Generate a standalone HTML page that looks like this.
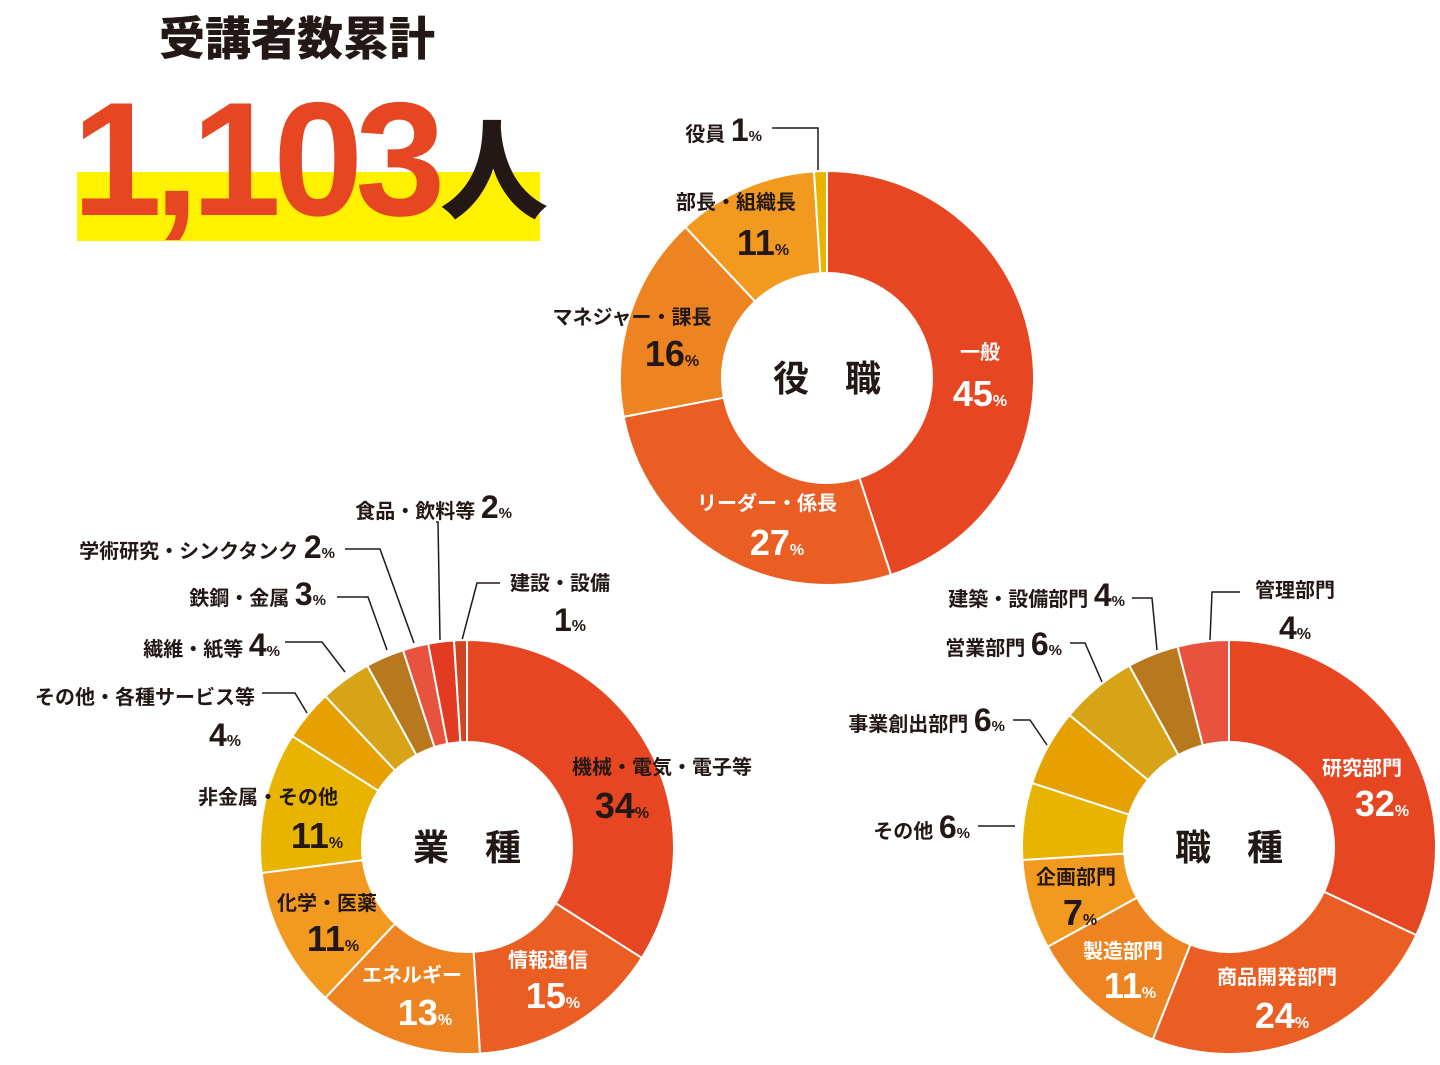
<!DOCTYPE html>
<html><head><meta charset="utf-8">
<style>
html,body{margin:0;padding:0;background:#fff;}
body{width:1440px;height:1060px;overflow:hidden;position:relative;font-family:"Liberation Sans","Noto Sans CJK JP",sans-serif;}
svg text{font-family:"Liberation Sans","Noto Sans CJK JP",sans-serif;font-weight:700;}
</style></head>
<body>
<svg id="chart" width="1440" height="1060" viewBox="0 0 1440 1060" xmlns="http://www.w3.org/2000/svg">
  <g>
    <rect x="77" y="172" width="463" height="69" fill="#fff100"/>
    <text x="297" y="55" text-anchor="middle" font-size="46" fill="#231815" style="font-weight:900">受講者数累計</text>
    <text x="72" y="215" font-size="162" fill="#e64622" style="font-weight:900;letter-spacing:-8px">1,103</text>
    <text x="440" y="210" font-size="108" fill="#231815" style="font-weight:900">人</text>
  </g>
  <g id="leaders" fill="none" stroke="#231815" stroke-width="1.5">
    <polyline points="772,128 818,128 818,170"/>
    <polyline points="262,693 295,693 307,713"/>
    <polyline points="285,642 322,642 345,672"/>
    <polyline points="337,597 368,597 387,650"/>
    <polyline points="345,549 380,549 414,643"/>
    <polyline points="436,522 438,522 440,640"/>
    <polyline points="500,583 477,583 462,640"/>
    <polyline points="978,826 1015,826"/>
    <polyline points="1013,720 1030,720 1047,745"/>
    <polyline points="1070,643 1085,643 1102,682"/>
    <polyline points="1132,598 1152,598 1157,650"/>
    <polyline points="1240,592 1212,592 1210,640"/>
  </g>
  <g id="donuts"></g>
  <g id="labels"></g>
</svg>
<script>
// 役職 (position)
const posCategories = ["一般","リーダー・係長","マネジャー・課長","部長・組織長","役員"];
const posValues = [45,27,16,11,1];
// 業種 (industry)
const indCategories = ["機械・電気・電子等","情報通信","エネルギー","化学・医薬","非金属・その他","その他・各種サービス等","繊維・紙等","鉄鋼・金属","学術研究・シンクタンク","食品・飲料等","建設・設備"];
const indValues = [34,15,13,11,11,4,4,3,2,2,1];
// 職種 (job)
const jobCategories = ["研究部門","商品開発部門","製造部門","企画部門","その他","事業創出部門","営業部門","建築・設備部門","管理部門"];
const jobValues = [32,24,11,7,6,6,6,4,4];

const posColors = ["#e64622","#ea5e24","#ee8421","#f29a1f","#e8b400"];
const indColors = ["#e64622","#ea5e24","#ee8421","#f29a1f","#e8b400","#e6a000","#d7a418","#b8791e","#e8533f","#e33b22","#d0451f"];
const jobColors = ["#e64622","#ea5e24","#ee8421","#f29a1f","#e8b400","#e6a000","#d7a418","#b8791e","#e8533f"];

const NS="http://www.w3.org/2000/svg";
function pt(cx,cy,r,a){return [cx+r*Math.sin(a), cy-r*Math.cos(a)];}
function drawDonut(id,cx,cy,ro,ri,cats,vals,colors,center){
  const g=document.createElementNS(NS,"g");
  
  
  const total=vals.reduce((a,b)=>a+b,0);
  let a0=0;
  vals.forEach((v,i)=>{
    const a1=a0+v/total*Math.PI*2;
    const large=(a1-a0)>Math.PI?1:0;
    const p1=pt(cx,cy,ro,a0),p2=pt(cx,cy,ro,a1),p3=pt(cx,cy,ri,a1),p4=pt(cx,cy,ri,a0);
    const path=document.createElementNS(NS,"path");
    path.setAttribute("d",`M${p1[0]},${p1[1]}A${ro},${ro} 0 ${large} 1 ${p2[0]},${p2[1]}L${p3[0]},${p3[1]}A${ri},${ri} 0 ${large} 0 ${p4[0]},${p4[1]}Z`);
    path.setAttribute("fill",colors[i]);
    path.setAttribute("stroke","#fff");
    path.setAttribute("stroke-width","2");
    
    
    g.appendChild(path);
    a0=a1;
  });
  const t=document.createElementNS(NS,"text");
  t.setAttribute("x",cx);t.setAttribute("y",cy+13);
  t.setAttribute("text-anchor","middle");t.setAttribute("font-size","36");t.setAttribute("fill","#231815");
  t.setAttribute("xml:space","preserve");
  t.textContent=center;
  
  
  g.appendChild(t);
  document.getElementById("donuts").appendChild(g);
}
drawDonut("position",827,378,207,105,posCategories,posValues,posColors,"役　職");
drawDonut("industry",467,847,207,105,indCategories,indValues,indColors,"業　種");
drawDonut("job",1229,847,207,105,jobCategories,jobValues,jobColors,"職　種");

const L=document.getElementById("labels");
function txt(x,y,s,size,fill,anchor){
  const t=document.createElementNS(NS,"text");
  t.setAttribute("x",x);t.setAttribute("y",y);t.setAttribute("font-size",size);
  t.setAttribute("fill",fill);t.setAttribute("text-anchor",anchor||"middle");
  t.textContent=s;
  
  
  L.appendChild(t);return t;
}
function pct(x,y,v,fill,anchor,size){
  const t=document.createElementNS(NS,"text");
  t.setAttribute("x",x);t.setAttribute("y",y);t.setAttribute("fill",fill);
  t.setAttribute("text-anchor",anchor||"middle");
  const a=document.createElementNS(NS,"tspan");a.setAttribute("font-size",size||36);a.textContent=v;
  const b=document.createElementNS(NS,"tspan");b.setAttribute("font-size",16);b.textContent="%";
  t.appendChild(a);t.appendChild(b);
  
  
  L.appendChild(t);return t;
}
// combined name + pct on one line, right-anchored
function inline(xEnd,y,name,v){
  const t=document.createElementNS(NS,"text");
  t.setAttribute("x",xEnd);t.setAttribute("y",y);t.setAttribute("fill","#231815");t.setAttribute("text-anchor","end");
  const a=document.createElementNS(NS,"tspan");a.setAttribute("font-size",20);a.textContent=name+" ";
  const b=document.createElementNS(NS,"tspan");b.setAttribute("font-size",32);b.textContent=v;
  const c=document.createElementNS(NS,"tspan");c.setAttribute("font-size",15);c.textContent="%";
  t.appendChild(a);t.appendChild(b);t.appendChild(c);
  
  
  L.appendChild(t);
}
const W="#fff",K="#231815";
// position
txt(980,359,posCategories[0],20,W);pct(980,406,posValues[0],W);
txt(767,510,posCategories[1],20,W);pct(777,555,posValues[1],W);
txt(632,324,posCategories[2],20,K);pct(672,366,posValues[2],K);
txt(736,209,posCategories[3],20,K);pct(763,255,posValues[3],K);
inline(762,141,posCategories[4],posValues[4]);
// industry
txt(662,774,indCategories[0],20,K);pct(622,818,indValues[0],K);
txt(548,967,indCategories[1],20,W);pct(553,1008,indValues[1],W);
txt(412,982,indCategories[2],20,W);pct(425,1025,indValues[2],W);
txt(327,910,indCategories[3],20,K);pct(333,951,indValues[3],K);
txt(268,804,indCategories[4],20,K);pct(317,848,indValues[4],K);
txt(255,704,indCategories[5],20,K,"end");pct(225,746,indValues[5],K,"middle",32);
inline(280,656,indCategories[6],indValues[6]);
inline(326,605,indCategories[7],indValues[7]);
inline(335,558,indCategories[8],indValues[8]);
inline(512,518,indCategories[9],indValues[9]);
txt(510,590,indCategories[10],20,K,"start");pct(570,631,indValues[10],K,"middle",32);
// job
txt(1362,775,jobCategories[0],20,W);pct(1382,816,jobValues[0],W);
txt(1277,984,jobCategories[1],20,W);pct(1282,1028,jobValues[1],W);
txt(1123,958,jobCategories[2],20,W);pct(1130,998,jobValues[2],W);
txt(1076,884,jobCategories[3],20,K);pct(1080,925,jobValues[3],K);
inline(970,838,jobCategories[4],jobValues[4]);
inline(1005,731,jobCategories[5],jobValues[5]);
inline(1062,655,jobCategories[6],jobValues[6]);
inline(1125,606,jobCategories[7],jobValues[7]);
txt(1295,597,jobCategories[8],20,K);pct(1295,639,jobValues[8],K,"middle",32);
</script>
</body></html>
